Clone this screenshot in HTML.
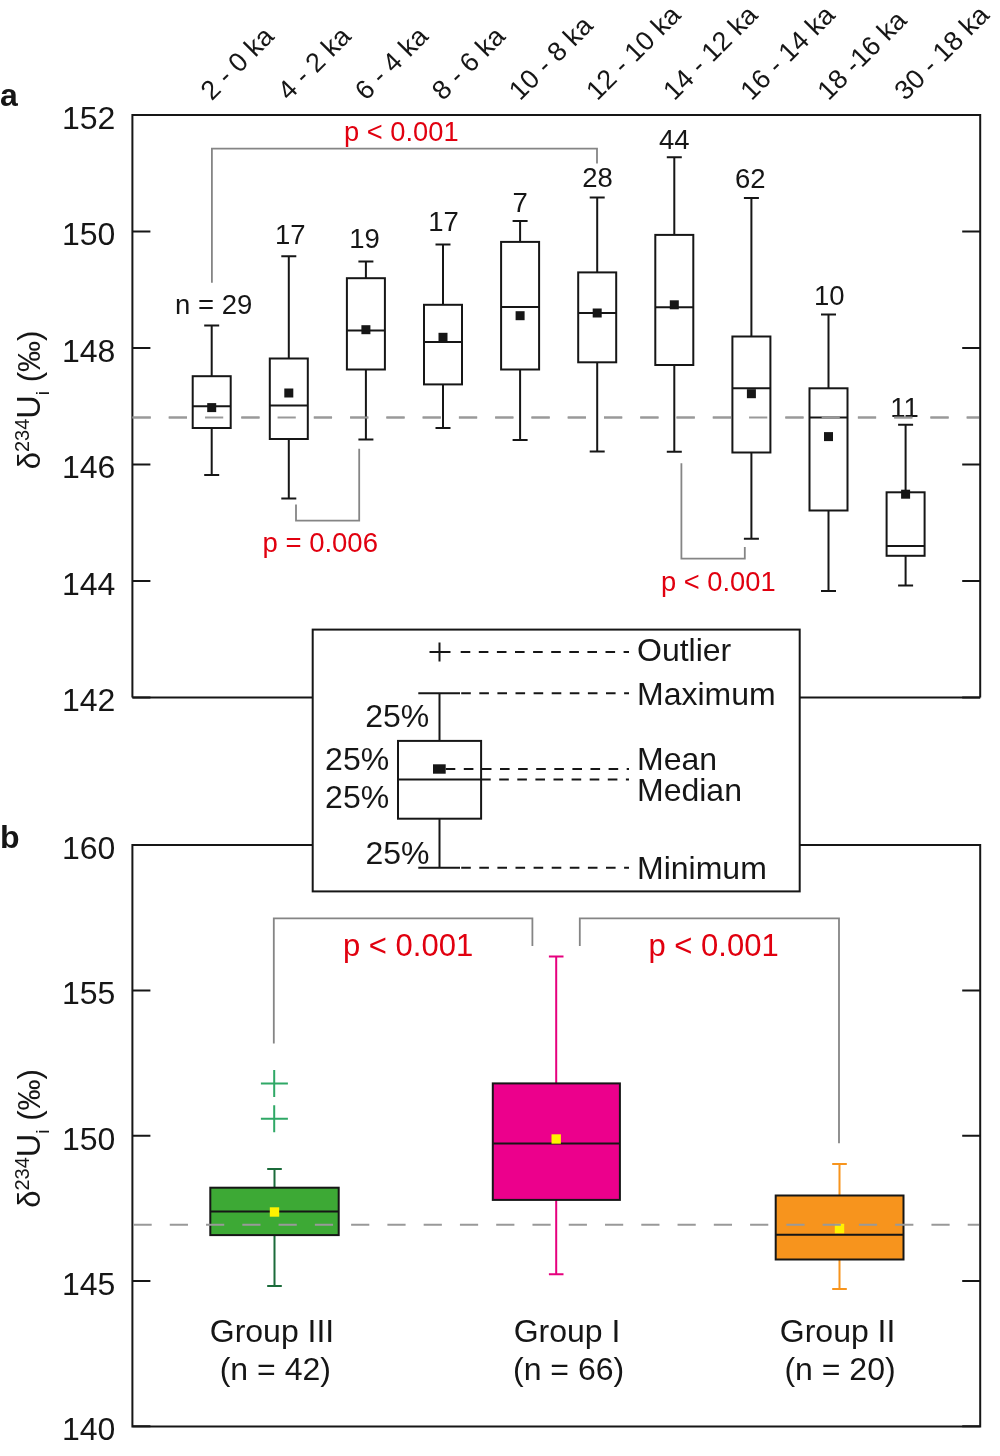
<!DOCTYPE html>
<html><head><meta charset="utf-8"><style>
html,body{margin:0;padding:0;background:#fff;width:1000px;height:1456px;overflow:hidden}
svg{display:block;will-change:transform}
text{font-family:"Liberation Sans", sans-serif}
</style></head><body>
<svg width="1000" height="1456" viewBox="0 0 1000 1456">
<rect width="1000" height="1456" fill="#fff"/>
<path d="M132.4 697.4 V115.1 H980.2 V697.4 M132.4 697.4 H312.7 M799.7 697.4 H980.2" fill="none" stroke="#161616" stroke-width="2"/>
<path d="M132.4 115.1 H150.4 M962.2 115.1 H980.2" stroke="#161616" stroke-width="2"/>
<path d="M132.4 231.6 H150.4 M962.2 231.6 H980.2" stroke="#161616" stroke-width="2"/>
<path d="M132.4 348.1 H150.4 M962.2 348.1 H980.2" stroke="#161616" stroke-width="2"/>
<path d="M132.4 464.6 H150.4 M962.2 464.6 H980.2" stroke="#161616" stroke-width="2"/>
<path d="M132.4 581.1 H150.4 M962.2 581.1 H980.2" stroke="#161616" stroke-width="2"/>
<path d="M132.4 697.6 H150.4 M962.2 697.6 H980.2" stroke="#161616" stroke-width="2"/>
<path d="M312.7 845.1 H132.4 V1426.4 H980.2 V845.1 H799.7" fill="none" stroke="#161616" stroke-width="2"/>
<path d="M132.4 845.1 H150.4 M962.2 845.1 H980.2" stroke="#161616" stroke-width="2"/>
<path d="M132.4 990.4 H150.4 M962.2 990.4 H980.2" stroke="#161616" stroke-width="2"/>
<path d="M132.4 1135.7 H150.4 M962.2 1135.7 H980.2" stroke="#161616" stroke-width="2"/>
<path d="M132.4 1281.0 H150.4 M962.2 1281.0 H980.2" stroke="#161616" stroke-width="2"/>
<path d="M132.4 1426.3 H150.4 M962.2 1426.3 H980.2" stroke="#161616" stroke-width="2"/>
<text x="115.3" y="128.7" text-anchor="end" font-size="32" fill="#161616">152</text>
<text x="115.3" y="245.2" text-anchor="end" font-size="32" fill="#161616">150</text>
<text x="115.3" y="361.7" text-anchor="end" font-size="32" fill="#161616">148</text>
<text x="115.3" y="478.2" text-anchor="end" font-size="32" fill="#161616">146</text>
<text x="115.3" y="594.7" text-anchor="end" font-size="32" fill="#161616">144</text>
<text x="115.3" y="711.2" text-anchor="end" font-size="32" fill="#161616">142</text>
<text x="115.3" y="859.1" text-anchor="end" font-size="32" fill="#161616">160</text>
<text x="115.3" y="1004.4" text-anchor="end" font-size="32" fill="#161616">155</text>
<text x="115.3" y="1149.7" text-anchor="end" font-size="32" fill="#161616">150</text>
<text x="115.3" y="1295.0" text-anchor="end" font-size="32" fill="#161616">145</text>
<text x="115.3" y="1440.3" text-anchor="end" font-size="32" fill="#161616">140</text>
<text x="0" y="106.4" font-size="32" font-weight="bold" fill="#161616">a</text>
<text x="0" y="847.7" font-size="32" font-weight="bold" fill="#161616">b</text>
<text transform="translate(40.3 400) rotate(-90)" text-anchor="middle" font-size="31" fill="#161616">δ<tspan font-size="20" dy="-11">234</tspan><tspan dy="11" font-size="32.5">U</tspan><tspan font-size="19" dy="9">i</tspan><tspan dy="-9"> (‰)</tspan></text>
<text transform="translate(40.3 1138.5) rotate(-90)" text-anchor="middle" font-size="31" fill="#161616">δ<tspan font-size="20" dy="-11">234</tspan><tspan dy="11" font-size="32.5">U</tspan><tspan font-size="19" dy="9">i</tspan><tspan dy="-9"> (‰)</tspan></text>
<text transform="translate(211.7 101.5) rotate(-45)" font-size="27" fill="#161616">2 - 0 ka</text>
<text transform="translate(288.8 101.5) rotate(-45)" font-size="27" fill="#161616">4 - 2 ka</text>
<text transform="translate(365.9 101.5) rotate(-45)" font-size="27" fill="#161616">6 - 4 ka</text>
<text transform="translate(443.0 101.5) rotate(-45)" font-size="27" fill="#161616">8 - 6 ka</text>
<text transform="translate(520.1 101.5) rotate(-45)" font-size="27" fill="#161616">10 - 8 ka</text>
<text transform="translate(597.2 101.5) rotate(-45)" font-size="27" fill="#161616">12 - 10 ka</text>
<text transform="translate(674.3 101.5) rotate(-45)" font-size="27" fill="#161616">14 - 12 ka</text>
<text transform="translate(751.4 101.5) rotate(-45)" font-size="27" fill="#161616">16 - 14 ka</text>
<text transform="translate(828.5 101.5) rotate(-45)" font-size="27" fill="#161616">18 -16 ka</text>
<text transform="translate(905.6 101.5) rotate(-45)" font-size="27" fill="#161616">30 - 18 ka</text>
<path d="M132.5 417.45 H979" stroke="#999999" stroke-width="2" stroke-dasharray="18.2 18.07"/>
<path d="M204.2 325.6 H219.2 M211.7 325.6 V376.2 M211.7 428.0 V474.9 M204.2 474.9 H219.2" stroke="#161616" stroke-width="2" fill="none"/>
<rect x="192.7" y="376.2" width="38" height="51.8" fill="white" stroke="#161616" stroke-width="2"/>
<path d="M192.7 406.3 H230.7" stroke="#161616" stroke-width="2"/>
<rect x="207.2" y="403.1" width="9" height="9" fill="#161616"/>
<path d="M281.3 256.2 H296.3 M288.8 256.2 V358.5 M288.8 439.0 V498.4 M281.3 498.4 H296.3" stroke="#161616" stroke-width="2" fill="none"/>
<rect x="269.8" y="358.5" width="38" height="80.5" fill="white" stroke="#161616" stroke-width="2"/>
<path d="M269.8 405.5 H307.8" stroke="#161616" stroke-width="2"/>
<rect x="284.3" y="388.5" width="9" height="9" fill="#161616"/>
<path d="M358.4 261.6 H373.4 M365.9 261.6 V278.2 M365.9 369.5 V439.6 M358.4 439.6 H373.4" stroke="#161616" stroke-width="2" fill="none"/>
<rect x="346.9" y="278.2" width="38" height="91.3" fill="white" stroke="#161616" stroke-width="2"/>
<path d="M346.9 330.4 H384.9" stroke="#161616" stroke-width="2"/>
<rect x="361.4" y="325.2" width="9" height="9" fill="#161616"/>
<path d="M435.5 244.4 H450.5 M443.0 244.4 V304.8 M443.0 384.4 V428.0 M435.5 428.0 H450.5" stroke="#161616" stroke-width="2" fill="none"/>
<rect x="424.0" y="304.8" width="38" height="79.6" fill="white" stroke="#161616" stroke-width="2"/>
<path d="M424.0 342.1 H462.0" stroke="#161616" stroke-width="2"/>
<rect x="438.5" y="332.8" width="9" height="9" fill="#161616"/>
<path d="M512.6 221.1 H527.6 M520.1 221.1 V241.9 M520.1 369.5 V440.0 M512.6 440.0 H527.6" stroke="#161616" stroke-width="2" fill="none"/>
<rect x="501.1" y="241.9" width="38" height="127.6" fill="white" stroke="#161616" stroke-width="2"/>
<path d="M501.1 307.0 H539.1" stroke="#161616" stroke-width="2"/>
<rect x="515.6" y="311.2" width="9" height="9" fill="#161616"/>
<path d="M589.7 197.5 H604.7 M597.2 197.5 V272.4 M597.2 362.3 V451.5 M589.7 451.5 H604.7" stroke="#161616" stroke-width="2" fill="none"/>
<rect x="578.2" y="272.4" width="38" height="89.9" fill="white" stroke="#161616" stroke-width="2"/>
<path d="M578.2 313.0 H616.2" stroke="#161616" stroke-width="2"/>
<rect x="592.7" y="308.5" width="9" height="9" fill="#161616"/>
<path d="M666.8 157.2 H681.8 M674.3 157.2 V234.9 M674.3 365.0 V451.7 M666.8 451.7 H681.8" stroke="#161616" stroke-width="2" fill="none"/>
<rect x="655.3" y="234.9" width="38" height="130.1" fill="white" stroke="#161616" stroke-width="2"/>
<path d="M655.3 307.2 H693.3" stroke="#161616" stroke-width="2"/>
<rect x="669.8" y="300.3" width="9" height="9" fill="#161616"/>
<path d="M743.9 198.0 H758.9 M751.4 198.0 V336.5 M751.4 452.5 V538.8 M743.9 538.8 H758.9" stroke="#161616" stroke-width="2" fill="none"/>
<rect x="732.4" y="336.5" width="38" height="116.0" fill="white" stroke="#161616" stroke-width="2"/>
<path d="M732.4 388.3 H770.4" stroke="#161616" stroke-width="2"/>
<rect x="746.9" y="389.2" width="9" height="9" fill="#161616"/>
<path d="M821.0 314.4 H836.0 M828.5 314.4 V388.3 M828.5 510.5 V591.0 M821.0 591.0 H836.0" stroke="#161616" stroke-width="2" fill="none"/>
<rect x="809.5" y="388.3" width="38" height="122.2" fill="white" stroke="#161616" stroke-width="2"/>
<path d="M809.5 417.5 H847.5" stroke="#161616" stroke-width="2"/>
<rect x="824.0" y="432.1" width="9" height="9" fill="#161616"/>
<path d="M898.1 424.7 H913.1 M905.6 424.7 V492.3 M905.6 555.8 V585.6 M898.1 585.6 H913.1" stroke="#161616" stroke-width="2" fill="none"/>
<rect x="886.6" y="492.3" width="38" height="63.5" fill="white" stroke="#161616" stroke-width="2"/>
<path d="M886.6 546.0 H924.6" stroke="#161616" stroke-width="2"/>
<rect x="901.1" y="489.7" width="9" height="9" fill="#161616"/>
<text x="213.7" y="313.6" text-anchor="middle" font-size="27.5" fill="#161616">n = 29</text>
<text x="290.2" y="243.6" text-anchor="middle" font-size="27.5" fill="#161616">17</text>
<text x="364.5" y="248.3" text-anchor="middle" font-size="27.5" fill="#161616">19</text>
<text x="443.6" y="231.2" text-anchor="middle" font-size="27.5" fill="#161616">17</text>
<text x="520.1" y="211.8" text-anchor="middle" font-size="27.5" fill="#161616">7</text>
<text x="597.5" y="187.4" text-anchor="middle" font-size="27.5" fill="#161616">28</text>
<text x="674.2" y="148.8" text-anchor="middle" font-size="27.5" fill="#161616">44</text>
<text x="750.3" y="187.9" text-anchor="middle" font-size="27.5" fill="#161616">62</text>
<text x="829.2" y="304.8" text-anchor="middle" font-size="27.5" fill="#161616">10</text>
<text x="904.6" y="417.1" text-anchor="middle" font-size="27.5" fill="#161616">11</text>
<path d="M132.5 417.45 H979" stroke="#999999" stroke-width="2" stroke-dasharray="18.2 18.07"/>
<path d="M211.9 282.8 V148.7 H597 V163.4" fill="none" stroke="#858585" stroke-width="1.8"/>
<path d="M296 504.4 V520.7 H359.2 V448.7" fill="none" stroke="#858585" stroke-width="1.8"/>
<path d="M681.4 463.2 V558.6 H744.8 V547.1" fill="none" stroke="#858585" stroke-width="1.8"/>
<text x="344" y="140.6" font-size="27.3" fill="#e1000f">p &lt; 0.001</text>
<text x="262.5" y="552" font-size="27.5" fill="#e1000f">p = 0.006</text>
<text x="661" y="591" font-size="27.3" fill="#e1000f">p &lt; 0.001</text>
<rect x="312.7" y="629.6" width="487" height="261.8" fill="white" stroke="#161616" stroke-width="2"/>
<path d="M429.5 652 H450.5 M439.5 642.5 V661.5" stroke="#161616" stroke-width="2"/>
<path d="M418.3 693.3 H460 M439.5 693.3 V740.9 M439.5 818.7 V867.8 M418.3 867.8 H460" stroke="#161616" stroke-width="2" fill="none"/>
<rect x="398" y="740.9" width="83.1" height="77.8" fill="white" stroke="#161616" stroke-width="2"/>
<path d="M398 779.4 H481.1" stroke="#161616" stroke-width="2"/>
<rect x="433" y="764.3" width="12.7" height="9.4" fill="#161616"/>
<path d="M460.7 652 H629" stroke="#161616" stroke-width="2" stroke-dasharray="9.6 8.5"/>
<path d="M461.2 693.3 H629" stroke="#161616" stroke-width="2" stroke-dasharray="9.6 8.5"/>
<path d="M445.7 769 H629" stroke="#161616" stroke-width="2" stroke-dasharray="9.6 8.5"/>
<path d="M481.1 779.4 H629" stroke="#161616" stroke-width="2" stroke-dasharray="9.6 8.5"/>
<path d="M461.2 867.8 H629" stroke="#161616" stroke-width="2" stroke-dasharray="9.6 8.5"/>
<text x="637" y="661.1" font-size="32" fill="#161616">Outlier</text>
<text x="637" y="704.5" font-size="32" fill="#161616">Maximum</text>
<text x="637" y="769.5" font-size="32" fill="#161616">Mean</text>
<text x="637" y="801.2" font-size="32" fill="#161616">Median</text>
<text x="637" y="878.7" font-size="32" fill="#161616">Minimum</text>
<text x="365.2" y="727.1" font-size="32" fill="#161616">25%</text>
<text x="325.09999999999997" y="769.5" font-size="32" fill="#161616">25%</text>
<text x="325.09999999999997" y="808" font-size="32" fill="#161616">25%</text>
<text x="365.4" y="863.9" font-size="32" fill="#161616">25%</text>
<path d="M273.8 1043.6 V918.4 H532.4 V946 M579.8 946 V918.4 H839 V1143.3" fill="none" stroke="#858585" stroke-width="1.8"/>
<text x="343" y="955.6" font-size="31" fill="#e1000f">p &lt; 0.001</text>
<text x="648.5" y="955.5" font-size="31" fill="#e1000f">p &lt; 0.001</text>
<path d="M267.2 1169.0 H281.8 M274.5 1169.0 V1187.7 M274.5 1235.1 V1286.1 M267.2 1286.1 H281.8" stroke="#1b6b3a" stroke-width="2" fill="none"/>
<rect x="210.3" y="1187.7" width="128.4" height="47.4" fill="#3da935" stroke="#161616" stroke-width="2"/>
<path d="M210.3 1211.4 H338.7" stroke="#161616" stroke-width="2"/>
<rect x="269.8" y="1207.3" width="9.4" height="9.4" fill="#fff200"/>
<path d="M548.9000000000001 956.5 H563.5 M556.2 956.5 V1083.4 M556.2 1199.9 V1274.3 M548.9000000000001 1274.3 H563.5" stroke="#e6007e" stroke-width="2" fill="none"/>
<rect x="492.8" y="1083.4" width="127.1" height="116.5" fill="#ec008c" stroke="#161616" stroke-width="2"/>
<path d="M492.8 1143.6 H619.9" stroke="#161616" stroke-width="2"/>
<rect x="551.5" y="1134.3" width="9.4" height="9.4" fill="#fff200"/>
<path d="M832.2 1163.9 H846.8 M839.5 1163.9 V1195.5 M839.5 1259.5 V1289.0 M832.2 1289.0 H846.8" stroke="#f7941d" stroke-width="2" fill="none"/>
<rect x="775.7" y="1195.5" width="127.8" height="64.0" fill="#f7941d" stroke="#161616" stroke-width="2"/>
<path d="M775.7 1234.8 H903.5" stroke="#161616" stroke-width="2"/>
<rect x="834.8" y="1223.8" width="9.4" height="9.4" fill="#fff200"/>
<path d="M260.9 1083.5 H287.9 M274.2 1070.0 V1097.0" stroke="#2fa866" stroke-width="2"/>
<path d="M260.9 1118.7 H287.9 M274.2 1105.2 V1132.2" stroke="#2fa866" stroke-width="2"/>
<path d="M133.5 1224.7 H979" stroke="#999999" stroke-width="2" stroke-dasharray="18.2 18.07"/>
<text x="272" y="1341.8" text-anchor="middle" font-size="32" fill="#161616">Group III</text>
<text x="275.3" y="1380.3" text-anchor="middle" font-size="32" fill="#161616">(n = 42)</text>
<text x="567" y="1341.8" text-anchor="middle" font-size="32" fill="#161616">Group I</text>
<text x="568.6" y="1380.3" text-anchor="middle" font-size="32" fill="#161616">(n = 66)</text>
<text x="837.6" y="1341.8" text-anchor="middle" font-size="32" fill="#161616">Group II</text>
<text x="840" y="1380.3" text-anchor="middle" font-size="32" fill="#161616">(n = 20)</text>
</svg>
</body></html>
